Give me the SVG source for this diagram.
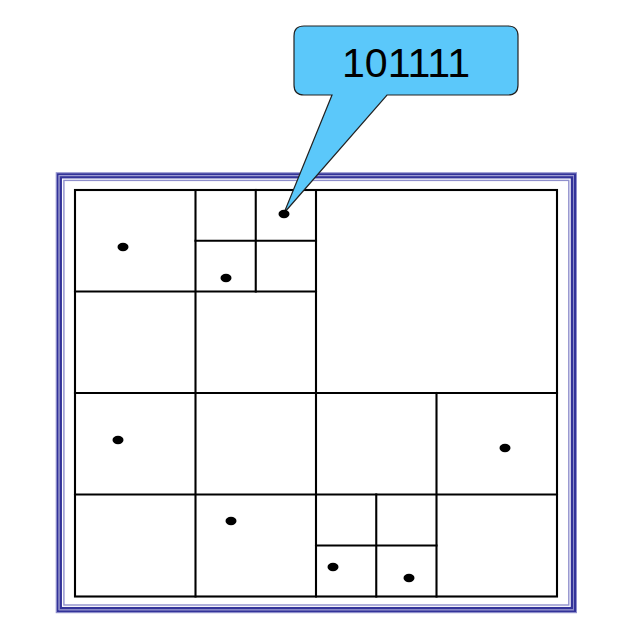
<svg xmlns="http://www.w3.org/2000/svg" width="624" height="644" viewBox="0 0 624 644">
<style>
.g{stroke:#000;stroke-width:2.1;fill:none;stroke-linecap:square}
.pt{fill:#000}
.fd{fill:none;stroke:#333399}
.fl{fill:none;stroke:#8f8fcc}
</style>
<rect width="624" height="644" fill="#fff"/>
<g id="frame">
<rect class="fl" x="56.2" y="172.7" width="520.3" height="440" stroke-width="1"/>
<rect class="fd" x="57.7" y="174.2" width="517.3" height="437" stroke-width="2"/>
<rect class="fl" x="59.2" y="175.7" width="514.3" height="434" stroke-width="1"/>
<rect class="fd" x="60.8" y="177.3" width="511.1" height="430.8" stroke-width="2.3"/>
<rect class="fl" x="63.9" y="180.4" width="504.9" height="424.6" stroke-width="1.4"/>
</g>
<g id="grid">
<rect class="g" x="75" y="190" width="482" height="406.5"/>
<line class="g" x1="75" y1="291.5" x2="316" y2="291.5"/>
<line class="g" x1="75" y1="393" x2="557" y2="393"/>
<line class="g" x1="75" y1="494.5" x2="557" y2="494.5"/>
<line class="g" x1="195.5" y1="190" x2="195.5" y2="596.5"/>
<line class="g" x1="316" y1="190" x2="316" y2="596.5"/>
<line class="g" x1="436.5" y1="393" x2="436.5" y2="596.5"/>
<line class="g" x1="255.75" y1="190" x2="255.75" y2="291.5"/>
<line class="g" x1="195.5" y1="240.75" x2="316" y2="240.75"/>
<line class="g" x1="376.25" y1="494.5" x2="376.25" y2="596.5"/>
<line class="g" x1="316" y1="545.5" x2="436.5" y2="545.5"/>
</g>
<g id="callout">
<path d="M304,26 H508 Q518,26 518,36 V85 Q518,95 508,95 H387 L284,213 L332,95 H304 Q294,95 294,85 V36 Q294,26 304,26 Z" fill="#5bc8fa" stroke="#222" stroke-width="1.2"/>
<text x="406" y="77" font-family="Liberation Sans, Arial, sans-serif" font-size="41" text-anchor="middle" fill="#000" textLength="128" lengthAdjust="spacingAndGlyphs">101111</text>
</g>
<g id="points">
<ellipse class="pt" cx="123" cy="247" rx="5.5" ry="4.2"/>
<ellipse class="pt" cx="226" cy="278" rx="5.5" ry="4.2"/>
<ellipse class="pt" cx="284" cy="214" rx="5.5" ry="4.2"/>
<ellipse class="pt" cx="118" cy="440" rx="5.5" ry="4.2"/>
<ellipse class="pt" cx="505" cy="448" rx="5.5" ry="4.2"/>
<ellipse class="pt" cx="231" cy="521" rx="5.5" ry="4.2"/>
<ellipse class="pt" cx="333" cy="567" rx="5.5" ry="4.2"/>
<ellipse class="pt" cx="409" cy="578" rx="5.5" ry="4.2"/>
</g>
</svg>
